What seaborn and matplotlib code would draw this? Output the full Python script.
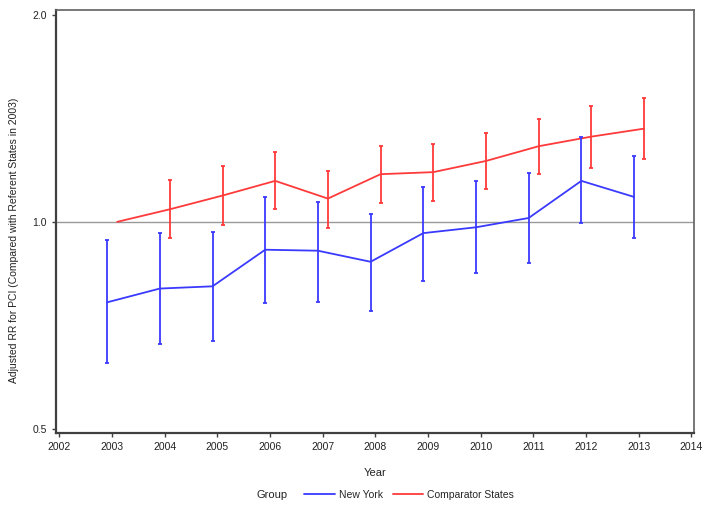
import numpy as np
import pandas as pd
import matplotlib
matplotlib.use('Agg')
import matplotlib.pyplot as plt
import seaborn as sns
from matplotlib.lines import Line2D

# Values
years = [2003, 2004, 2005, 2006, 2007, 2008, 2009, 2010, 2011, 2012, 2013]

ny_rr = [0.764, 0.800, 0.806, 0.911, 0.908, 0.875, 0.963, 0.982, 1.013, 1.147, 1.087]
ny_lo = [0.623, 0.665, 0.671, 0.761, 0.765, 0.741, 0.821, 0.843, 0.872, 0.996, 0.946]
ny_hi = [0.941, 0.963, 0.966, 1.088, 1.070, 1.028, 1.125, 1.146, 1.177, 1.328, 1.248]

comp_rr = [1.000, 1.043, 1.092, 1.147, 1.081, 1.173, 1.181, 1.226, 1.288, 1.330, 1.366]
comp_lo = [np.nan, 0.949, 0.991, 1.045, 0.980, 1.064, 1.073, 1.116, 1.173, 1.198, 1.236]
comp_hi = [np.nan, 1.150, 1.206, 1.262, 1.187, 1.288, 1.297, 1.347, 1.411, 1.475, 1.514]

groups = ['New York', 'Comparator States']
colors = {'New York': '#3a3aff', 'Comparator States': '#ff3a3a'}
dodge = {'New York': -0.09, 'Comparator States': 0.1}

def build_df():
    rows = []
    for g, rr, lo, hi in [(groups[0], ny_rr, ny_lo, ny_hi),
                          (groups[1], comp_rr, comp_lo, comp_hi)]:
        for y, r, l, h in zip(years, rr, lo, hi):
            rows.append({'Year': y + dodge[g], 'RR': r, 'Lo': l, 'Hi': h, 'Group': g})
    return pd.DataFrame(rows)

df = build_df()

sns.set_style('white')
plt.rcParams['font.family'] = ['Liberation Sans', 'DejaVu Sans']

fig = plt.figure(figsize=(7.09, 5.12), dpi=100)
ax = fig.add_axes([0.079, 0.155, 0.900, 0.825])

ax.axhline(1.0, color='#999999', linewidth=1, zorder=1)

sns.lineplot(data=df, x='Year', y='RR', hue='Group', palette=colors,
             linewidth=1.3, legend=False, ax=ax, zorder=3)

for g in groups:
    sub = df[df['Group'] == g].dropna()
    ax.errorbar(sub['Year'], sub['RR'],
                yerr=[sub['RR'] - sub['Lo'], sub['Hi'] - sub['RR']],
                fmt='none', ecolor=colors[g], elinewidth=1.3,
                capsize=1.6, capthick=1.3, zorder=3)

ax.set_yscale('log')
ax.set_ylim(0.494, 2.03)
ax.yaxis.set_major_locator(matplotlib.ticker.FixedLocator([0.5, 1.0, 2.0]))
ax.yaxis.set_major_formatter(matplotlib.ticker.FixedFormatter(['0.5', '1.0', '2.0']))
ax.yaxis.set_minor_locator(matplotlib.ticker.NullLocator())

ax.set_xlim(2001.94, 2014.05)
ax.set_xticks(range(2002, 2015))

ax.tick_params(axis='both', which='major', length=3, width=1, color='#404040',
               labelsize=7.5, labelcolor='#222222', direction='out',
               bottom=True, left=True)

for side in ['left', 'bottom']:
    ax.spines[side].set_color('#404040')
    ax.spines[side].set_linewidth(1.6)
for side in ['top', 'right']:
    ax.spines[side].set_color('#606060')
    ax.spines[side].set_linewidth(1.2)

ax.set_xlabel('Year', fontsize=8, color='#222222', labelpad=12)
ax.set_ylabel('Adjusted RR for PCI (Compared with Referent States in 2003)',
              fontsize=7.5, color='#222222')
ax.yaxis.set_label_coords(-0.058, 0.456)

# Legend at the bottom, with the "Group" label on its left
fig.text(0.384, 0.034, 'Group', fontsize=8, color='#222222', va='center', ha='center')
handles = [Line2D([], [], color=colors[g], linewidth=1.3) for g in groups]
fig.legend(handles, groups, loc='center left', bbox_to_anchor=(0.416, 0.034),
           ncol=2, frameon=False, fontsize=7.5, handlelength=2.9,
           handletextpad=0.45, columnspacing=0.9)

fig.savefig('out.png', dpi=100)
